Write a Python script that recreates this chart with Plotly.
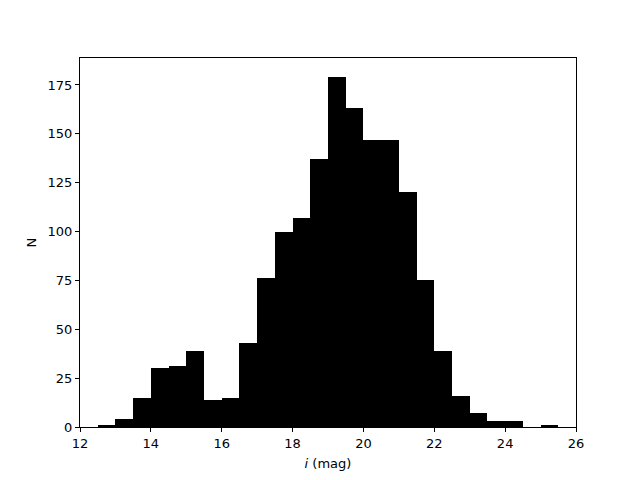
import plotly.graph_objects as go

# histogram of i-band magnitudes, bins of 0.5 mag starting at 12.5
bin_left = [12.5 + 0.5 * k for k in range(26)]
counts = [1, 4, 15, 30, 31, 39, 14, 15, 43, 76, 100, 107, 137, 179, 163,
          147, 147, 120, 75, 39, 16, 7, 3, 3, 0, 1]
x_ticks = [12, 14, 16, 18, 20, 22, 24, 26]
y_ticks = [0, 25, 50, 75, 100, 125, 150, 175]

bin_width = 0.5
centers = [b + bin_width / 2 for b in bin_left]

fig = go.Figure(go.Bar(
    x=centers, y=counts, width=bin_width,
    marker=dict(color="black", line=dict(width=0)),
))

axis_style = dict(
    showline=True, linecolor="black", linewidth=1, mirror=True,
    ticks="outside", ticklen=4, tickwidth=1, tickcolor="black",
    showgrid=False, zeroline=False,
    tickfont=dict(size=13, color="black"),
)

# page body adds an 8px offset, so margins are shifted to compensate
fig.update_layout(
    width=640, height=480,
    margin=dict(l=72, r=72, t=50, b=61),
    paper_bgcolor="white", plot_bgcolor="white",
    font=dict(family="DejaVu Sans", size=13, color="black"),
    bargap=0, showlegend=False,
    xaxis=dict(range=[12, 26], tickvals=x_ticks,
               title=dict(text="<i>i</i> (mag)", standoff=9, font=dict(size=13)),
               **axis_style),
    yaxis=dict(range=[0, 188.8], tickvals=y_ticks,
               title=dict(text="N", standoff=8, font=dict(size=13)),
               **axis_style),
)

fig.write_html("out.html")
